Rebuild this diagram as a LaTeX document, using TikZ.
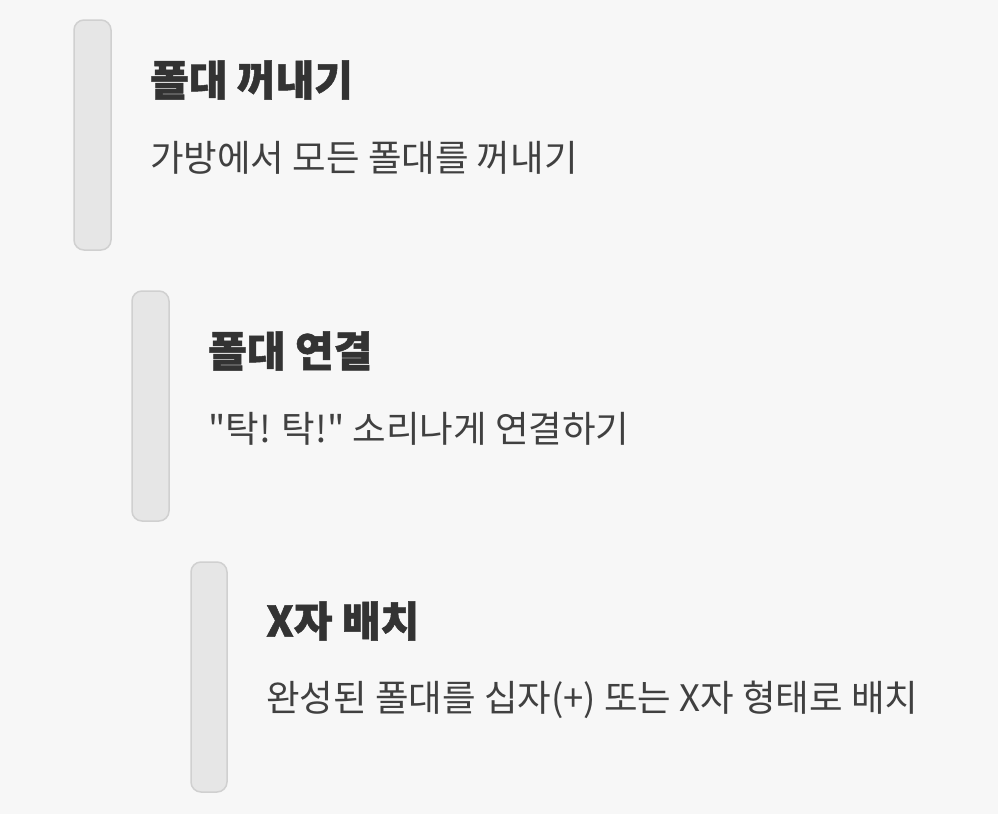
\documentclass[tikz,border=0pt]{standalone}
\usepackage{fontspec}
\newfontfamily\krfont{Noto Sans CJK KR}
\newfontfamily\krbold[FakeBold=1.2]{Noto Sans CJK KR Black}
\definecolor{bg}{HTML}{F7F7F7}
\definecolor{barfill}{HTML}{E6E6E6}
\definecolor{barline}{HTML}{D0D0D0}
\definecolor{titlecol}{HTML}{333333}
\definecolor{desccol}{HTML}{404040}
\tikzset{
  bar/.style={fill=barfill, draw=barline, line width=1.5pt, rounded corners=10pt},
  steptitle/.style={anchor=west, inner sep=0pt, text=titlecol, font=\krbold\fontsize{42}{46}\selectfont},
  stepdesc/.style={anchor=west, inner sep=0pt, text=desccol, font=\krfont\fontsize{36.5}{40}\selectfont},
}
\begin{document}
\begin{tikzpicture}[x=1pt,y=-1pt]
\fill[bg] (0,0) rectangle (998,814);
\useasboundingbox (0,0) rectangle (998,814);
\draw[bar] (74,20) rectangle (111,250);
\node (b1) at (92.5,135) {};
\draw[bar] (132,291) rectangle (169,521);
\node (b2) at (150.5,406) {};
\draw[bar] (191,562) rectangle (227,792);
\node (b3) at (209,677) {};
\node[steptitle] (t1) at (150,80) {폴대 꺼내기};
\node[stepdesc] (d1) at (150,158) {가방에서 모든 폴대를 꺼내기};
\node[steptitle] (t2) at (208,351) {폴대 연결};
\node[stepdesc] (d2) at (208,429) {"탁! 탁!" 소리나게 연결하기};
\node[steptitle] (t3) at (266,621) {X자 배치};
\node[stepdesc] (d3) at (266,700) {완성된 폴대를 십자(+) 또는 X자 형태로 배치};
\end{tikzpicture}
\end{document}
